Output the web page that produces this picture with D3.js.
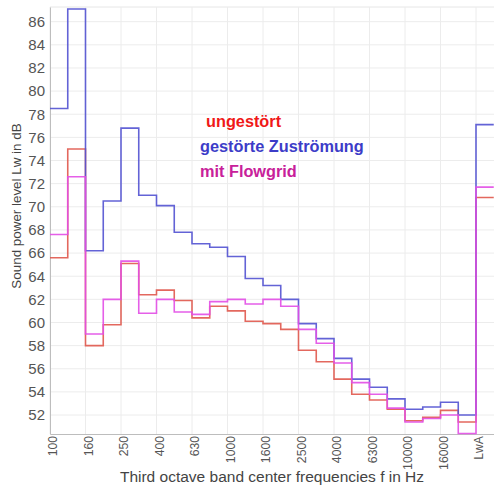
<!DOCTYPE html>
<html><head><meta charset="utf-8">
<script src="https://cdn.jsdelivr.net/npm/d3@7"></script>
<style>body{margin:0;background:#fff}svg{display:block}</style>
</head><body>
<script>
const bands = ["100","125","160","200","250","315","400","500","630","800","1000","1250","1600","2000","2500","3150","4000","5000","6300","8000","10000","12500","16000","20000","LwA"];
const tickLabels = ["100","160","250","400","630","1000","1600","2500","4000","6300","10000","16000","LwA"];
const yTicks = [52,54,56,58,60,62,64,66,68,70,72,74,76,78,80,82,84,86];
const ungestoert = [65.6,75.0,58.0,59.8,65.1,62.4,62.8,61.9,60.4,61.4,61.0,60.1,59.9,59.4,57.6,56.6,55.1,53.8,53.3,52.5,51.5,51.8,52.4,51.4,70.8];
const gestoert  = [78.5,87.1,66.2,70.5,76.8,71.0,70.1,67.8,66.8,66.5,65.7,63.8,63.2,62.0,59.9,58.6,56.9,55.1,54.4,53.4,52.5,52.7,53.1,52.0,77.1];
const flowgrid  = [67.6,72.6,59.0,62.0,65.3,60.8,62.0,60.9,60.7,61.8,62.0,61.6,62.0,61.4,59.4,58.2,56.5,54.8,53.8,52.6,51.4,51.7,52.0,50.4,71.7];
const seriesNames = ["ungestört","gestörte Zuströmung","mit Flowgrid"];
const lineColors = ["#e0584c","#5252d2","#e24ee6"];
const textColors = ["#f01818","#3c3cc8","#c8209a"];

const W=494,H=486;
const svg=d3.select("body").append("svg").attr("width",W).attr("height",H);
const x=d3.scaleLinear().domain([0,bands.length]).range([50,493.75]);
const y=d3.scaleLinear().domain([50.36,87.27]).range([434,7]);
const font="Liberation Sans, Arial, sans-serif";

// grid
const g=svg.append("g");
g.selectAll(".hg").data(yTicks).join("line")
 .attr("x1",50).attr("x2",W).attr("y1",d=>y(d)).attr("y2",d=>y(d))
 .attr("stroke","#ececec").attr("stroke-width",1);
g.append("line").attr("x1",50).attr("x2",W).attr("y1",7).attr("y2",7).attr("stroke","#e6e6e6");
g.selectAll(".vg").data(tickLabels).join("line")
 .attr("x1",d=>x(bands.indexOf(d))).attr("x2",d=>x(bands.indexOf(d)))
 .attr("y1",7).attr("y2",434).attr("stroke","#ececec").attr("stroke-width",1);

// axes
const yAxis=d3.axisLeft(y).tickValues(yTicks).tickSize(0).tickPadding(5);
const ya=svg.append("g").attr("transform","translate(50,0)").call(yAxis);
ya.select(".domain").attr("stroke","#bdbdbd");
ya.selectAll("text").attr("font-family",font).attr("font-size",15).attr("fill","#555");

const xa=svg.append("g").attr("transform","translate(0,434)")
 .call(d3.axisBottom(x).tickValues(tickLabels.map(d=>bands.indexOf(d))).tickFormat(i=>bands[i]).tickSize(0));
xa.select(".domain").attr("stroke","#bdbdbd");
xa.selectAll("text").attr("font-family",font).attr("font-size",12.2).attr("fill","#555")
 .attr("text-anchor","end").attr("transform","rotate(-90)").attr("x",-2).attr("y",2).attr("dy","0.38em");

// lines
const line=d3.line().x((d,i)=>x(i)).y(d=>y(d)).curve(d3.curveStepAfter);
[ungestoert,gestoert,flowgrid].forEach((s,k)=>{
  const pts=s.concat([s[s.length-1]]);
  svg.append("path").datum(pts).attr("d",line).attr("fill","none")
   .attr("stroke",lineColors[k]).attr("stroke-width",1.6).attr("stroke-opacity",0.9);
});

// legend
const leg=[{t:seriesNames[0],x:206,y:127},{t:seriesNames[1],x:200,y:152},{t:seriesNames[2],x:200,y:177}];
svg.selectAll(".leg").data(leg).join("text")
 .attr("x",d=>d.x).attr("y",d=>d.y).text(d=>d.t)
 .attr("font-family",font).attr("font-weight","bold").attr("font-size",16.3)
 .attr("fill",(d,i)=>textColors[i]);

// titles
svg.append("text").attr("transform","translate(21,206) rotate(-90)").attr("text-anchor","middle")
 .attr("font-family",font).attr("font-size",13.4).attr("fill","#444").text("Sound power level Lw in dB");
svg.append("text").attr("x",272).attr("y",482).attr("text-anchor","middle")
 .attr("font-family",font).attr("font-size",15.5).attr("fill","#444").text("Third octave band center frequencies f in Hz");
</script>
</body></html>
